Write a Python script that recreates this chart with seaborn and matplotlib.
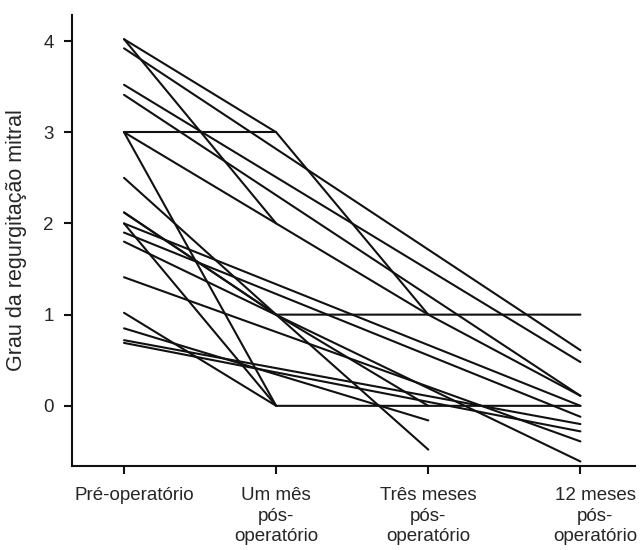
import numpy as np
import pandas as pd
import matplotlib
matplotlib.use("Agg")
import matplotlib.pyplot as plt
import matplotlib.transforms as mtransforms
import seaborn as sns

# tempos de avaliacao
tempos = ["Pré-operatório", "Um mês\npós-\noperatório",
          "Três meses\npós-\noperatório", "12 meses\npós-\noperatório"]

nan = np.nan
# grau da regurgitacao por paciente: pre, 1 mes, 3 meses, 12 meses (nan = sem avaliacao)
p01 = [4.02, 3.0, 1.0, 0.11]
p02 = [3.0, 3.0, nan, nan]
p03 = [4.02, 2.0, nan, nan]
p04 = [3.0, 2.0, 1.0, nan]
p05 = [3.92, nan, nan, 0.61]
p06 = [3.52, nan, nan, 0.48]
p07 = [3.41, nan, nan, 0.11]
p08 = [3.0, 0.0, nan, nan]
p09 = [2.5, 1.0, -0.48, nan]
p10 = [2.12, 1.0, 1.0, 1.0]
p11 = [2.12, 1.0, 0.0, nan]
p12 = [2.0, 0.0, 0.0, 0.0]
p13 = [2.0, nan, nan, 0.0]
p14 = [1.9, nan, nan, -0.12]
p15 = [1.8, nan, nan, -0.61]
p16 = [1.41, nan, nan, -0.39]
p17 = [1.02, 0.0, nan, nan]
p18 = [0.85, nan, -0.16, nan]
p19 = [0.72, nan, nan, -0.2]
p20 = [0.69, nan, nan, -0.28]

pacientes = [p01, p02, p03, p04, p05, p06, p07, p08, p09, p10,
             p11, p12, p13, p14, p15, p16, p17, p18, p19, p20]

linhas = []
for i, vals in enumerate(pacientes):
    for t, v in enumerate(vals):
        linhas.append({"paciente": i, "tempo": t, "grau": v})
df = pd.DataFrame(linhas).dropna()

sns.set_style("ticks")
plt.rcParams['font.family'] = ['Liberation Sans', 'DejaVu Sans']

fig = plt.figure(figsize=(6.4, 5.5), dpi=100)
ax = fig.add_axes([0.1125, 0.153, 0.88, 0.82])

sns.lineplot(data=df, x="tempo", y="grau", units="paciente", estimator=None,
             color="#111111", lw=1.5, ax=ax, legend=False)

ax.set_xlim(-0.342, 3.36)
ax.set_ylim(-0.658, 4.287)
ax.set_xticks(range(4))
ax.set_xticklabels(tempos, fontsize=13.5, linespacing=1.3, va="top")
ax.set_yticks([0, 1, 2, 3, 4])
ax.set_yticklabels(["0", "1", "2", "3", "4"], fontsize=13.5)
ax.set_xlabel("")
ax.set_ylabel("Grau da regurgitação mitral", fontsize=15.5, labelpad=12)
ax.tick_params(axis="y", length=6, width=1.5, color="#111111", pad=7)
ax.tick_params(axis="x", length=6, width=1.5, color="#111111", pad=9)
for s in ["left", "bottom"]:
    ax.spines[s].set_linewidth(1.5)
    ax.spines[s].set_color("#111111")
sns.despine(ax=ax)

# primeiro e ultimo rotulos ficam um pouco a direita no original
rotulos = ax.get_xticklabels()
for lab, dx in [(rotulos[0], 0.1), (rotulos[-1], 0.15)]:
    lab.set_transform(lab.get_transform() + mtransforms.ScaledTranslation(dx, 0, fig.dpi_scale_trans))

fig.savefig("out.png", dpi=100)
